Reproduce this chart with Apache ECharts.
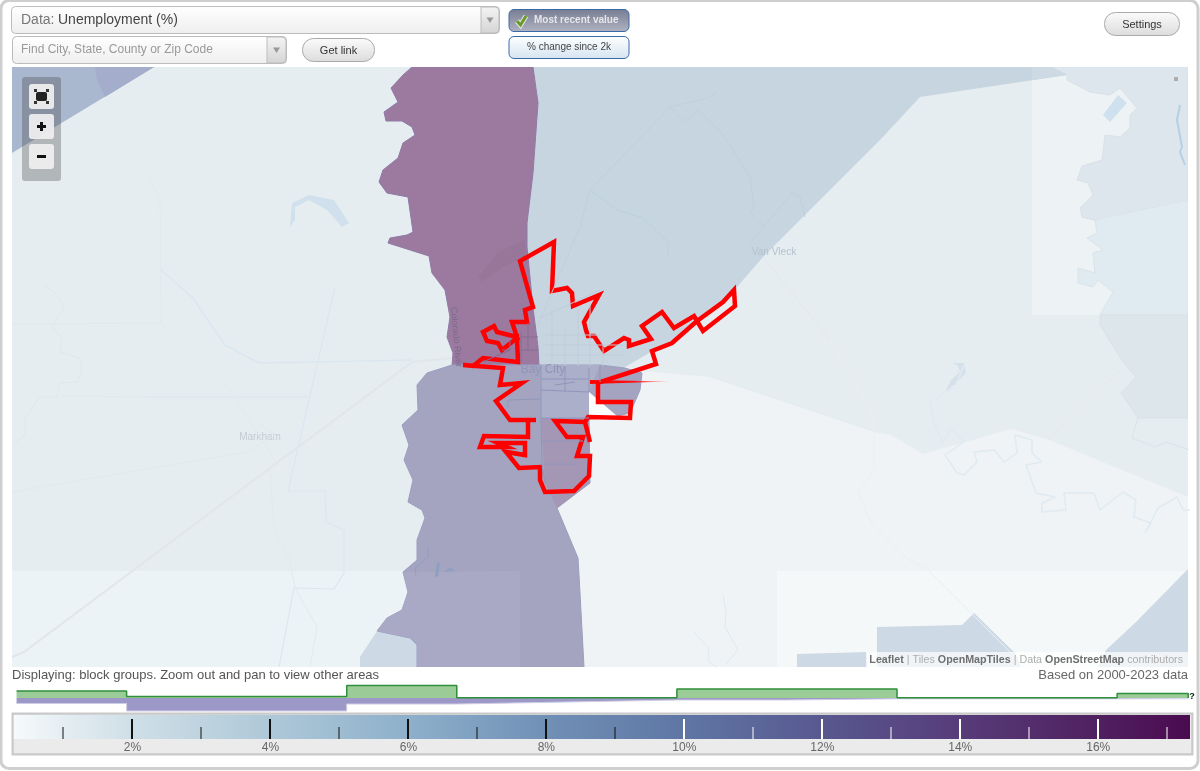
<!DOCTYPE html>
<html>
<head>
<meta charset="utf-8">
<title>Unemployment (%)</title>
<script src="https://cdn.jsdelivr.net/npm/echarts@6/dist/echarts.min.js"></script>
<style>
html, body { margin: 0; padding: 0; background: #fff; }
#chart { width: 1200px; height: 771px; }
</style>
</head>
<body>
<div id="chart"></div>
<script>
// histogram + colour scale values (percent)
const binEdges = [0.32, 1.915, 3.51, 5.105, 6.7, 8.295, 9.89, 11.485, 13.08, 14.675, 16.27, 17.3];
const greenBins = [7, 1.5, 1.5, 12.5, 0.3, 0.3, 9, 9, 0.3, 0.3, 4.5, 0];
const purpleBins = [5.5, 13, 13, 6, 4, 2, 2, 0.8, 0.8, 0.8, 0.8, 0];
const rampStops = [0.28, 1, 2, 4, 6, 8, 10, 12, 14, 16, 17.33];
const rampColors = ["#f6fafc", "#e4eef2", "#cfdfe7", "#aec8d8", "#8eb0cb", "#7090b6", "#5f76a5", "#58588f", "#573c7a", "#50205f", "#4a0a4f"];
const tickLabels = [2, 4, 6, 8, 10, 12, 14, 16];
const minorTicks = [1, 3, 5, 7, 9, 11, 13, 15, 17];

// map shapes, in map units
const baseArea = [[12, 67], [1188, 67], [1188, 667], [12, 667]];
const southLight = [[642, 371], [709, 377], [874, 432], [891, 435], [923, 454], [966, 442], [1011, 429], [1049, 440], [1188, 497], [1188, 667], [520, 667], [520, 500], [590, 400], [625, 367]];
const tileWest = [[12, 571], [520, 571], [520, 667], [12, 667]];
const tileSouthEast = [[777, 571], [1188, 571], [1188, 667], [777, 667]];
const tileNorthEast = [[1032, 67], [1188, 67], [1188, 315], [1032, 315]];
const landUpper = [[1052, 67], [1067, 75], [1067, 80], [1090, 92], [1110, 95], [1120, 88], [1137, 108], [1130, 115], [1130, 128], [1120, 137], [1105, 135], [1102, 160], [1082, 166], [1077, 180], [1088, 183], [1093, 195], [1080, 208], [1082, 217], [1095, 220], [1188, 200], [1188, 67]];
const landMiddle = [[1082, 217], [1095, 220], [1188, 200], [1188, 315], [1100, 315], [1113, 292], [1098, 280], [1093, 287], [1078, 283], [1078, 268], [1095, 273], [1093, 253], [1103, 250], [1087, 238], [1097, 233], [1095, 220]];
const landLower = [[1100, 315], [1188, 315], [1188, 418], [1138, 418], [1121, 393], [1136, 377], [1123, 362], [1100, 325]];
const tractNorthWest = [[12, 67], [154, 67], [12, 153]];
const tractNorthWestB = [[95, 67], [154, 67], [105, 97], [97, 80]];
const tractNorthEast = [[533, 67], [1052, 67], [1067, 75], [920, 97], [880, 140], [850, 170], [763, 257], [737, 287], [697, 323], [677, 337], [625, 367], [539, 366], [538, 347], [533, 308], [527, 247], [527, 223], [533, 173], [538, 103]];
const tractNorthEastTile = [[1032, 67], [1052, 67], [1067, 75], [1032, 80]];
const tractPurple = [[412, 67], [403, 75], [391, 88], [398, 102], [384, 112], [386, 121], [402, 121], [412, 127], [415, 135], [403, 143], [398, 158], [383, 170], [379, 182], [387, 193], [408, 197], [413, 232], [407, 235], [390, 238], [388, 243], [429, 256], [432, 273], [445, 290], [450, 317], [447, 337], [453, 353], [452, 366], [539, 366], [538, 347], [533, 308], [527, 247], [527, 223], [533, 173], [538, 103], [533, 67]];
const tractPurpleTown = [[498, 252], [525, 240], [525, 257], [503, 267], [482, 282], [478, 277]];
const tractSouth = [[452, 365], [539, 365], [600, 365], [625, 368], [642, 373], [640, 390], [630, 413], [617, 416], [589, 392], [589, 418], [590, 483], [557, 508], [578, 558], [580, 593], [584, 667], [417, 667], [417, 645], [410, 638], [377, 631], [387, 618], [402, 610], [408, 592], [403, 572], [417, 560], [417, 540], [425, 518], [422, 510], [408, 502], [413, 480], [404, 460], [409, 445], [402, 425], [418, 410], [417, 385], [427, 373]];
const tractSouthTile = [[403, 572], [520, 571], [520, 667], [417, 667], [417, 645], [410, 638], [377, 631], [387, 618], [402, 610], [408, 592]];
const tractCity = [[540, 365], [600, 365], [589, 392], [589, 418], [541, 418]];
const tractCitySouth = [[541, 418], [589, 418], [590, 483], [557, 508], [545, 483]];
const notchWhite = [[589, 392], [617, 416], [589, 418]];
const blockSouthWest = [[377, 631], [410, 638], [417, 645], [417, 667], [360, 667], [360, 657]];
const blockBottomA = [[877, 627], [962, 625], [974, 613], [1015, 653], [1021, 667], [877, 667]];
const blockBottomB = [[797, 654], [867, 652], [867, 667], [797, 667]];
const blockBottomC = [[1188, 569], [1136, 622], [1106, 650], [1098, 667], [1188, 667]];
const lakeWest = [[292, 203], [309, 195], [334, 200], [349, 223], [342, 227], [327, 210], [309, 200], [295, 207], [295, 220], [290, 227]];
const lakeEast = [[953, 363], [964, 363], [966, 373], [956, 383], [945, 392], [951, 380], [960, 372], [958, 366]];
const patchEast = [[1103, 115], [1118, 95], [1127, 103], [1110, 122]];
const pondA = [[437, 562], [440, 563], [438, 577], [435, 576]];
const pondB = [[444, 572], [450, 567], [455, 571]];
const cityLimit = [[463, 365], [473, 366], [483, 358], [518, 362], [517, 338], [502, 350], [498, 343], [487, 341], [483, 332], [494, 326], [497, 332], [517, 337], [512, 322], [527, 322], [525, 310], [533, 307], [520, 261], [554, 242], [552, 291], [567, 288], [572, 293], [573, 306], [599, 295], [584, 322], [586, 330], [588, 336], [594, 336], [604, 351], [624, 338], [629, 340], [629, 346], [651, 339], [642, 326], [662, 312], [674, 328], [694, 316], [697, 321], [723, 302], [734, 290], [735, 306], [703, 331], [697, 321], [672, 343], [652, 351], [656, 364], [600, 382], [598, 383], [598, 402], [631, 402], [630, 418], [588, 417], [585, 422], [590, 442], [585, 422], [555, 421], [567, 437], [583, 437], [577, 456], [590, 456], [589, 476], [574, 491], [545, 492], [540, 480], [540, 467], [519, 468], [506, 452], [525, 455], [525, 443], [498, 443], [507, 447], [480, 447], [484, 436], [528, 437], [528, 420], [536, 420], [510, 420], [496, 401], [522, 383], [500, 385], [503, 368]];
const citySpike = [[590, 380], [670, 381.5], [590, 384]];

// water and roads
const canalA = [[160, 269], [192, 297], [225, 345], [259, 363], [412, 360]];
const canalB = [[146, 397], [309, 397]];
const canalC = [[335, 287], [288, 491], [325, 491], [326, 522], [344, 530], [344, 573], [334, 589], [294, 588], [279, 667]];
const railway = [[12, 657], [24, 652], [412, 362], [452, 358]];
const faintA = [[150, 180], [160, 197], [161, 323], [229, 390], [275, 460], [270, 470], [274, 530], [289, 558], [295, 588], [317, 627], [310, 667]];
const faintB = [[12, 324], [161, 323]];
const faintC = [[62, 396], [146, 397]];
const faintD = [[12, 492], [247, 452], [275, 435], [258, 423]];
const faintE = [[830, 340], [874, 417], [874, 470], [858, 492], [872, 525], [909, 560], [925, 567], [1015, 657]];
const faintF = [[1049, 440], [1122, 368]];
const faintG = [[763, 257], [830, 340]];
const creekWest = [[44, 285], [55, 293], [64, 307], [52, 327], [62, 338], [60, 352], [80, 358], [82, 370], [77, 382], [60, 383], [57, 397], [40, 397], [25, 418], [25, 435], [12, 445]];
const riverEast = [[964, 365], [955, 387], [945, 392], [930, 403], [934, 423], [943, 443], [951, 428], [964, 442], [945, 455], [957, 473], [964, 475], [977, 462], [974, 452], [994, 450], [1004, 462], [1017, 453], [1015, 435], [1032, 440], [1032, 453], [1042, 462], [1026, 465], [1036, 493], [1055, 497], [1042, 503], [1042, 512], [1066, 510], [1064, 493], [1094, 493], [1100, 510], [1123, 492], [1136, 500], [1134, 517], [1151, 523], [1145, 533], [1158, 508], [1177, 497], [1183, 510], [1190, 510]];
const streamA = [[723, 595], [726, 612], [725, 627], [738, 650], [725, 665]];
const streamB = [[694, 632], [708, 647], [709, 662], [717, 667]];
const streamC = [[1180, 105], [1177, 120], [1182, 147], [1180, 152], [1185, 165]];
const streamD = [[428, 547], [428, 557], [415, 568], [416, 577]];
const landEdge = [[1138, 418], [1132, 438], [1155, 447], [1166, 442], [1190, 450]];
const neLineA = [[590, 190], [670, 107], [685, 122], [698, 110], [722, 133], [750, 177], [754, 207], [750, 213], [765, 228]];
const neLineB = [[670, 107], [707, 98], [717, 92]];
const neLineC = [[590, 190], [580, 227], [537, 327]];
const neLineD = [[750, 243], [792, 193], [800, 197], [805, 217]];
const neStream = [[590, 190], [617, 210], [643, 218], [668, 242], [668, 255]];

// block group lines
const cityStreets = [
	[[540, 318], [600, 290]], [[545, 335], [600, 335]], [[545, 345], [625, 345]], [[545, 355], [625, 355]],
	[[552, 310], [552, 366]], [[565, 330], [565, 366]], [[578, 310], [578, 366]], [[590, 305], [590, 366]], [[603, 345], [603, 366]]
];
const southLines = [
	[[541, 365], [541, 418], [542, 465], [545, 483]], [[541, 390], [589, 392]], [[509, 400], [540, 399]], [[508, 400], [508, 408]],
	[[541, 379], [589, 379]], [[555, 385], [575, 382]], [[542, 418], [589, 418]], [[542, 441], [583, 441]], [[543, 464], [577, 464]],
	[[565, 366], [565, 392]], [[589, 368], [589, 392]], [[600, 366], [600, 382]]
];
const purpleLines = [
	[[521, 332], [521, 362]], [[528, 323], [528, 350]], [[521, 337], [538, 337]], [[521, 350], [538, 350]],
	[[510, 340], [510, 350], [502, 350]], [[483, 362], [510, 350]]
];

const placeNames = ["Bay City", "Markham", "Van Vleck", "Colorado River"];
const placePoints = [[543, 370], [260, 437], [774, 252], [456, 337]];
const placeSizes = [12, 10, 10, 9];
const placeColors = ["#9095b7", "#c3ccd6", "#b4c2cf", "#7a6a8c"];
const placeAngles = [0, 0, 0, -85];

const uiFont = '"Liberation Sans", Arial, sans-serif';

function area(pts, fill, stroke, lineWidth) {
	return {
		type: "custom",
		coordinateSystem: "cartesian2d",
		xAxisIndex: 0,
		yAxisIndex: 0,
		silent: true,
		clip: true,
		encode: { x: 0, y: 1 },
		data: pts,
		renderItem: function (params, api) {
			if (params.dataIndex !== 0) return;
			return {
				type: "polygon",
				shape: { points: pts.map((p) => api.coord(p)) },
				style: { fill: fill, stroke: stroke || null, lineWidth: lineWidth || 0, lineJoin: "miter", miterLimit: 6 },
			};
		},
	};
}

function path(pts, color, width, dash) {
	return {
		type: "line",
		xAxisIndex: 0,
		yAxisIndex: 0,
		silent: true,
		showSymbol: false,
		clip: true,
		data: pts,
		lineStyle: { color: color, width: width, type: dash || "solid" },
	};
}

const spikeFill = {
	type: "linear", x: 0, y: 0, x2: 1, y2: 0,
	colorStops: [{ offset: 0, color: "#ff0000" }, { offset: 0.55, color: "#ff1010" }, { offset: 1, color: "rgba(255,120,120,0.4)" }],
};

const mapSeries = [
	area(baseArea, "#e6edf0"),
	area(tileWest, "#ecf3f6"),
	area(southLight, "#eff3f5"),
	area(tileSouthEast, "#f5f8f9"),
	area(tileNorthEast, "#edf2f5"),
	area(landUpper, "#dce6ec", "#d9e2e8", 1),
	area(landMiddle, "#e0ebf1", "#dbe4ea", 1),
	area(landLower, "#dde6eb", "#d9e2e7", 1),
	area(blockBottomA, "#cddae5"),
	area(blockBottomB, "#cddae5"),
	area(blockBottomC, "#cddae5"),
	area(blockSouthWest, "#cddae5"),
	area(patchEast, "#cfe0ef"),
	area(lakeWest, "#d0e0ec"),
	area(lakeEast, "#d4e1eb"),
	path(riverEast, "#e0eaf1", 1.5),
	path(canalA, "#dbe7f0", 1.5),
	path(canalB, "#dbe7f0", 1.5),
	path(canalC, "#dbe7f0", 1.2),
	path(railway, "#e0e6ea", 2),
	path(faintA, "#e2e9ed", 1),
	path(faintB, "#e2e9ed", 1),
	path(faintC, "#e2e9ed", 1),
	path(faintD, "#e2e9ed", 1),
	path(faintE, "#ebeff1", 1),
	path(faintF, "#e3e8ec", 1),
	path(faintG, "#e3e8ec", 1),
	path(creekWest, "#e0e8ec", 1),
	path(streamA, "#dfe9f0", 1),
	path(streamB, "#dfe9f0", 1),
	path(streamC, "#b5d0e5", 2),
	path(landEdge, "#dae2e7", 1),
	area(tractNorthWest, "#a9b7cf"),
	area(tractNorthWestB, "#a4adcb"),
	area(tractNorthEast, "#c7d5e0"),
	area(tractNorthEastTile, "#cddae4"),
	path(neLineA, "#c0d0dc", 1),
	path(neLineB, "#c0d0dc", 1),
	path(neLineC, "#c0d0dc", 1),
	path(neLineD, "#c0d0dc", 1),
	path(neStream, "#bbd1df", 1),
	area(tractPurple, "#9c7a9f", "#8f7aa6", 1),
	area(tractPurpleTown, "#987699"),
	area(tractSouth, "#a4a4c0", "#9a9fc0", 1),
	area(tractSouthTile, "#a9a9c5"),
	area(tractCity, "#acafca"),
	area(tractCitySouth, "#a497b6"),
	area(notchWhite, "#fbfcfd"),
	area(pondA, "#8f9fc0"),
	area(pondB, "#8f9fc0"),
	path(streamD, "#8f9fc0", 1),
];
cityStreets.forEach((s) => mapSeries.push(path(s, "#bdcdd9", 1)));
southLines.forEach((s) => mapSeries.push(path(s, "#9096bb", 1)));
purpleLines.forEach((s) => mapSeries.push(path(s, "#866a93", 1)));

mapSeries.push({
	type: "custom",
	xAxisIndex: 0,
	yAxisIndex: 0,
	silent: true,
	encode: { x: 0, y: 1 },
	data: placePoints,
	renderItem: function (params, api) {
		const i = params.dataIndex;
		const c = api.coord(placePoints[i]);
		return {
			type: "text",
			x: c[0],
			y: c[1],
			rotation: (placeAngles[i] * Math.PI) / 180,
			style: {
				text: placeNames[i],
				fill: placeColors[i],
				font: placeSizes[i] + "px " + uiFont,
				align: "center",
				verticalAlign: "middle",
			},
		};
	},
});
mapSeries.push(area(citySpike, spikeFill));
mapSeries.push(area(cityLimit, "none", "#ff0000", 4.5));

// histogram
const greenLine = binEdges.map((e, i) => [e, greenBins[i]]);
const purpleLine = binEdges.map((e, i) => [e, -purpleBins[i]]);
const histSeries = [
	{
		type: "line", step: "end", xAxisIndex: 1, yAxisIndex: 1, silent: true, showSymbol: false, data: purpleLine,
		lineStyle: { color: "#cfcce5", width: 1 }, areaStyle: { color: "#9c98c8", opacity: 1 },
	},
	{
		type: "line", step: "end", xAxisIndex: 1, yAxisIndex: 1, silent: true, showSymbol: false, data: greenLine,
		lineStyle: { color: "#2f8f3a", width: 1.5 }, areaStyle: { color: "#9bcc98", opacity: 1 },
	},
];

// colour scale
const rampSpan = rampStops[rampStops.length - 1] - rampStops[0];
const rampFill = {
	type: "linear", x: 0, y: 0, x2: 1, y2: 0,
	colorStops: rampStops.map((s, i) => ({ offset: (s - rampStops[0]) / rampSpan, color: rampColors[i] })),
};
const allTicks = tickLabels.map((v) => [v, 20 / 24, 2]).concat(minorTicks.map((v) => [v, 12 / 24, 1]));
const scaleSeries = [
	{
		type: "custom", xAxisIndex: 2, yAxisIndex: 2, silent: true, encode: { x: 0, y: 1 },
		data: [[rampStops[0], 1]],
		renderItem: function (params, api) {
			const a = api.coord([rampStops[0], 1]);
			const b = api.coord([rampStops[rampStops.length - 1], 0]);
			return { type: "rect", shape: { x: a[0], y: a[1], width: b[0] - a[0], height: b[1] - a[1] }, style: { fill: rampFill } };
		},
	},
	{
		type: "custom", xAxisIndex: 2, yAxisIndex: 2, silent: true, z: 3, encode: { x: 0, y: 1 },
		data: allTicks,
		renderItem: function (params, api) {
			const v = api.value(0);
			const a = api.coord([v, api.value(1)]);
			const b = api.coord([v, 0]);
			const w = api.value(2);
			return {
				type: "rect",
				shape: { x: Math.round(a[0]) - w / 2, y: a[1], width: w, height: b[1] - a[1] },
				style: { fill: v < 9.5 ? "#111111" : "#ffffff" },
			};
		},
	},
];

// page furniture around the chart
function grad(top, bottom) {
	return { type: "linear", x: 0, y: 0, x2: 0, y2: 1, colorStops: [{ offset: 0, color: top }, { offset: 1, color: bottom }] };
}
function box(x, y, w, h, r, fill, stroke, z) {
	return {
		type: "rect", silent: true, z: z || 0,
		shape: { x: x, y: y, width: w, height: h, r: r },
		style: { fill: fill, stroke: stroke || null, lineWidth: stroke ? 1 : 0 },
	};
}
function label(text, x, y, size, color, align, weight, z) {
	return {
		type: "text", silent: true, z: z || 5, x: x, y: y,
		style: {
			text: text, fill: color, align: align || "left", verticalAlign: "middle",
			font: (weight ? weight + " " : "") + size + "px " + uiFont,
		},
	};
}
function arrow(cx, cy) {
	return { type: "polygon", silent: true, z: 5, shape: { points: [[cx - 3.5, cy - 2.5], [cx + 3.5, cy - 2.5], [cx, cy + 3]] }, style: { fill: "#999999" } };
}

const uiElements = [
	// outer frame
	{ type: "rect", silent: true, z: 0, shape: { x: 1, y: 0.5, width: 1197, height: 768, r: 8 }, style: { fill: "#fff", stroke: "#cfcfcf", lineWidth: 3 } },
	// search boxes
	box(11.5, 6.5, 488, 27, 4, grad("#ffffff", "#eeeeee"), "#bcbcbc"),
	box(481, 7, 18, 26, [0, 4, 4, 0], grad("#f4f4f4", "#d4d4d4"), "#bcbcbc"),
	arrow(490, 20),
	label("Data:", 21, 20.5, 14, "#777777"),
	label("Unemployment (%)", 58, 20.5, 14, "#444444"),
	box(12.5, 36.5, 274, 27, 4, grad("#ffffff", "#eeeeee"), "#bcbcbc"),
	box(267, 37, 19, 26, [0, 4, 4, 0], grad("#f4f4f4", "#d4d4d4"), "#bcbcbc"),
	arrow(276.5, 50),
	label("Find City, State, County or Zip Code", 21, 50, 12, "#999999"),
	box(302.5, 38.5, 72, 23, 11, grad("#fbfbfb", "#dcdcdc"), "#aaaaaa"),
	label("Get link", 338.5, 50.5, 11, "#333333", "center"),
	// value mode buttons
	box(509, 9.5, 120, 22, 5, grad("#787c92", "#b0b3c2"), "#3a6aa5"),
	label("Most recent value", 534, 20, 10, "#e6e6ea", "left", "bold"),
	{ type: "polyline", silent: true, z: 5, shape: { points: [[517, 21], [520.5, 25], [526, 16]] }, style: { fill: "none", stroke: "#e8e8e8", lineWidth: 5 } },
	{ type: "polyline", silent: true, z: 5, shape: { points: [[517, 21], [520.5, 25], [526, 16]] }, style: { fill: "none", stroke: "#6a9a2a", lineWidth: 3 } },
	box(509, 36.5, 120, 22, 5, grad("#ffffff", "#d4e4f1"), "#3a6aa5"),
	label("% change since 2k", 569, 47, 10, "#444444", "center"),
	box(1104.5, 12.5, 75, 23, 11, grad("#fbfbfb", "#dcdcdc"), "#aaaaaa"),
	label("Settings", 1142, 24.5, 11, "#333333", "center"),
	// captions under the map
	label("Displaying: block groups. Zoom out and pan to view other areas", 12, 675, 13, "#555555"),
	label("Based on 2000-2023 data", 1188, 675, 13, "#666666", "right"),
	label("?", 1192, 697, 9, "#111111", "center", "bold"),
	// frame of the colour scale
	box(13, 714, 1179, 40, 0, "#ebebeb", "#c9c9c9"),
	{ type: "rect", silent: true, z: 1, shape: { x: 12.5, y: 713.5, width: 1180, height: 41 }, style: { fill: "none", stroke: "#c9c9c9", lineWidth: 2 } },
	// zoom control on the map
	box(22, 77, 39, 104, 3, "rgba(70,70,70,0.33)", null, 20),
	box(29, 84, 25, 25, 3, "rgba(240,240,240,0.92)", null, 21),
	box(29, 114, 25, 25, 3, "rgba(240,240,240,0.92)", null, 21),
	box(29, 144, 25, 25, 3, "rgba(240,240,240,0.92)", null, 21),
	box(36, 92, 11, 9, 2, "#222222", null, 22),
	box(34, 89, 3, 3, 0, "#333333", null, 22),
	box(46, 89, 3, 3, 0, "#333333", null, 22),
	box(34, 101, 3, 3, 0, "#333333", null, 22),
	box(46, 101, 3, 3, 0, "#333333", null, 22),
	box(37, 125, 9, 3, 0, "#111111", null, 22),
	box(40, 122, 3, 9, 0, "#111111", null, 22),
	box(37, 155, 9, 3, 0, "#111111", null, 22),
	// attribution
	box(866, 652, 322, 15, 0, "rgba(255,255,255,0.7)", null, 20),
	{
		type: "text", silent: true, z: 21, x: 1183, y: 660,
		style: {
			text: "{a|Leaflet} {b|| Tiles} {a|OpenMapTiles} {b|| Data} {a|OpenStreetMap} {b|contributors}",
			align: "right", verticalAlign: "middle", font: "11px " + uiFont,
			rich: {
				a: { fill: "#6f6f6f", font: "bold 10.7px " + uiFont },
				b: { fill: "#adadad", font: "10.7px " + uiFont },
			},
		},
	},
];

// the dot on the map
mapSeries.push(area([[1174, 77], [1178, 77], [1178, 81], [1174, 81]], "#adadad"));

const chart = echarts.init(document.getElementById("chart"), null, { renderer: "canvas" });
chart.setOption({
	animation: false,
	backgroundColor: "#ffffff",
	grid: [
		{ left: 12, top: 67, width: 1176, height: 600 },
		{ left: 14, top: 684, width: 1182, height: 28 },
		{ left: 14, top: 715, width: 1176, height: 24 },
	],
	xAxis: [
		{ type: "value", gridIndex: 0, min: 12, max: 1188, show: false },
		{ type: "value", gridIndex: 1, min: 0.283, max: 17.413, show: false },
		{
			type: "value", gridIndex: 2, min: 0.283, max: 17.33,
			axisLine: { show: false }, axisTick: { show: false }, splitLine: { show: false },
			axisLabel: {
				customValues: tickLabels, formatter: "{value}%", color: "#666666",
				fontFamily: "Liberation Sans", fontSize: 12, margin: 3,
			},
		},
	],
	yAxis: [
		{ type: "value", gridIndex: 0, min: 67, max: 667, inverse: true, show: false },
		{ type: "value", gridIndex: 1, min: -14, max: 14, show: false },
		{ type: "value", gridIndex: 2, min: 0, max: 1, show: false },
	],
	graphic: { elements: uiElements },
	series: mapSeries.concat(histSeries, scaleSeries),
});
</script>
</body>
</html>
